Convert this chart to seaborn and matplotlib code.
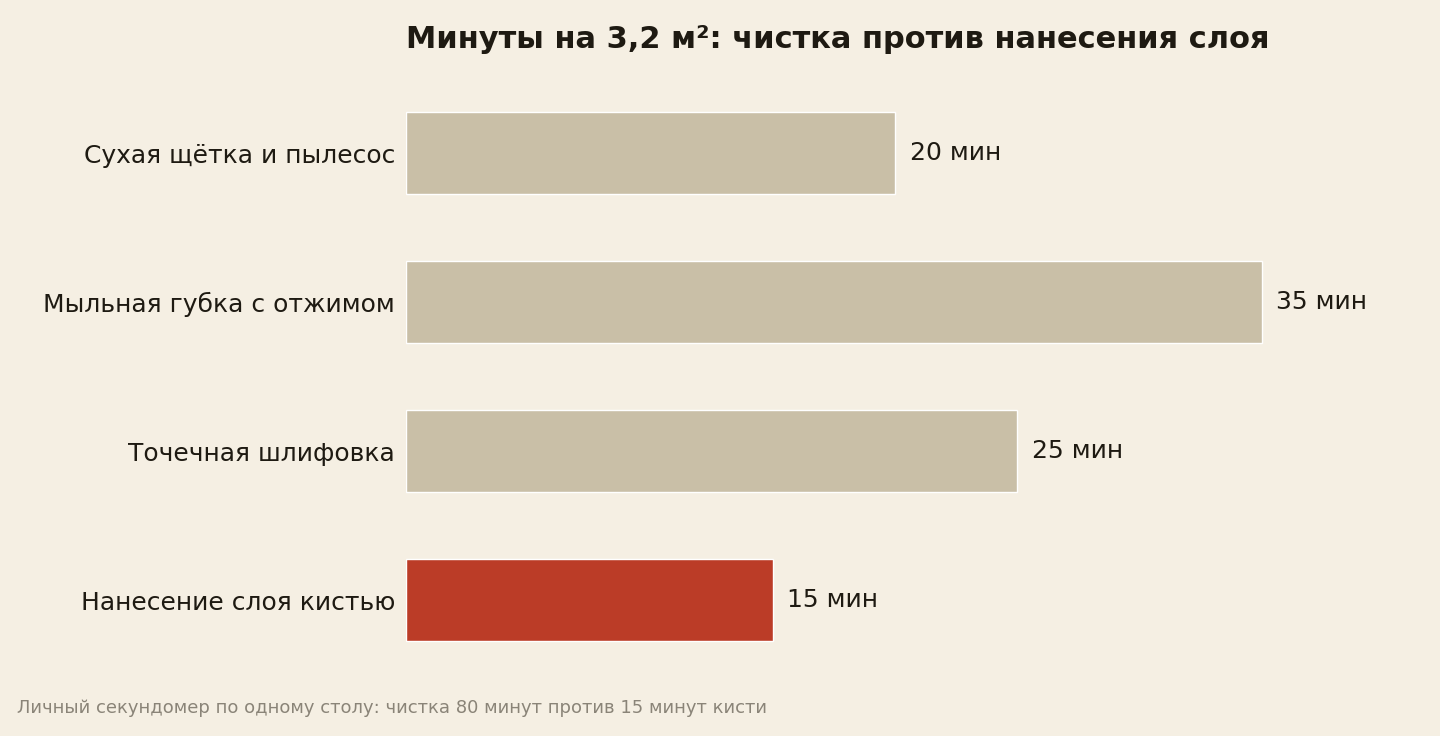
import matplotlib
matplotlib.use("Agg")
import matplotlib.pyplot as plt
import seaborn as sns
import pandas as pd

categories = ["Сухая щётка и пылесос", "Мыльная губка с отжимом", "Точечная шлифовка", "Нанесение слоя кистью"]
minutes = [20, 35, 25, 15]
colors = ["#c9bfa7", "#c9bfa7", "#c9bfa7", "#bb3c27"]
title = "Минуты на 3,2 м²: чистка против нанесения слоя"
footer = "Личный секундомер по одному столу: чистка 80 минут против 15 минут кисти"

bg = "#f5efe3"
sns.set_theme(style="white")
plt.rcParams['font.family'] = ['DejaVu Sans']
fig = plt.figure(figsize=(14.4, 7.36), dpi=100, facecolor=bg)
ax = fig.add_axes([406/1440, 1-674.5/736, 978/1440, 596/736], facecolor=bg)
df = pd.DataFrame({"cat": categories, "min": minutes})
sns.barplot(data=df, y="cat", x="min", hue="cat", palette=colors, legend=False,
            width=0.55, orient="h", ax=ax, saturation=1)
ax.set_xlim(0, 40)
ax.set_ylim(3.5, -0.5)
for i, v in enumerate(minutes):
    ax.text(v + 0.6, i, f"{v} мин", va="center", ha="left", fontsize=18, color="#1e1a12")
ax.set_xlabel(""); ax.set_ylabel("")
ax.set_xticks([])
ax.tick_params(axis="y", length=0, pad=8, labelsize=18, labelcolor="#1e1a12")
for s in ax.spines.values():
    s.set_visible(False)
fig.text(406/1440, 1-40/736, title, fontsize=22, fontweight="bold", color="#1e1a12", va="center", ha="left")
fig.text(17/1440, 1-708/736, footer, fontsize=13, color="#8a8478", va="center", ha="left")
fig.savefig("out.png", dpi=100, facecolor=bg)
